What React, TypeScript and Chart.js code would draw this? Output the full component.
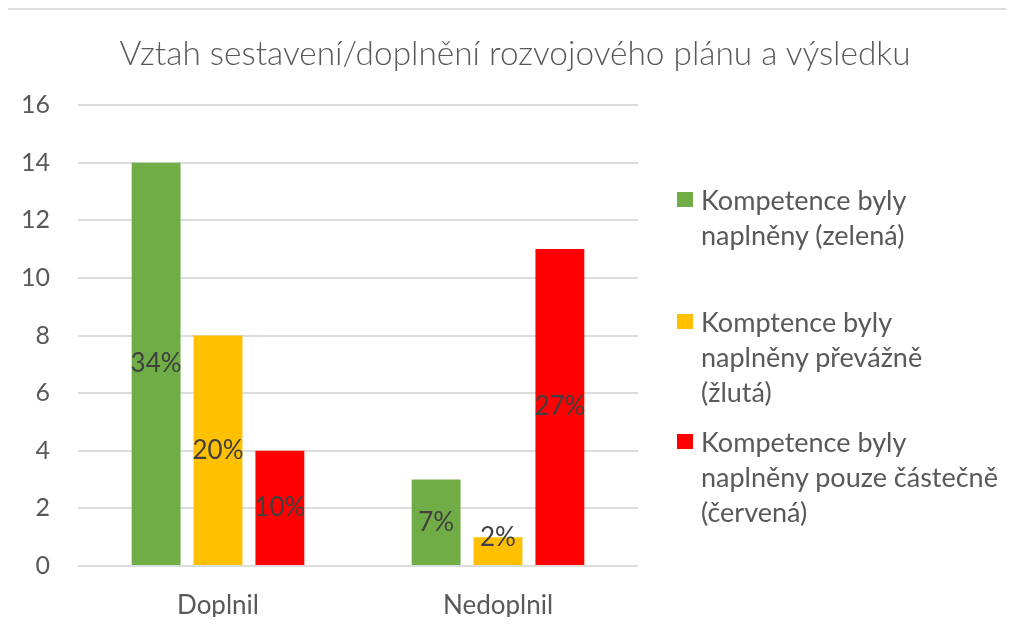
import React, { useEffect, useRef } from "react";
import { Chart, registerables } from "chart.js";

Chart.register(...registerables);

const TITLE = "Vztah sestavení/doplnění rozvojového plánu a výsledku";
const categories = ["Doplnil", "Nedoplnil"];
const seriesNames = [
  ["Kompetence byly", "naplněny (zelená)"],
  ["Komptence byly", "naplněny převážně", "(žlutá)"],
  ["Kompetence byly", "naplněny pouze částečně", "(červená)"],
];
const greenValues = [14, 3];
const yellowValues = [8, 1];
const redValues = [4, 11];
const greenPct = ["34%", "7%"];
const yellowPct = ["20%", "2%"];
const redPct = ["10%", "27%"];
const yTicks = [0, 2, 4, 6, 8, 10, 12, 14, 16];

const COLORS = ["#70AD47", "#FFC000", "#FF0000"];
const FONT = "Lato, 'Open Sans', sans-serif";
const TEXT = "#595959";

const seriesValues = [greenValues, yellowValues, redValues];
const seriesPct = [greenPct, yellowPct, redPct];

const pctLabelPlugin = {
  id: "pctLabels",
  afterDatasetsDraw(chart: any) {
    const ctx = chart.ctx;
    ctx.save();
    ctx.font = `26px ${FONT}`;
    ctx.fillStyle = "#404040";
    ctx.textAlign = "center";
    ctx.textBaseline = "middle";
    chart.data.datasets.forEach((ds: any, di: number) => {
      const meta = chart.getDatasetMeta(di);
      meta.data.forEach((bar: any, i: number) => {
        const center = (bar.y + bar.base) / 2;
        const y = Math.min(center, bar.base - 27);
        ctx.fillText(ds.pct[i], bar.x, y);
      });
    });
    ctx.restore();
  },
};

export default function App() {
  const ref = useRef<HTMLCanvasElement | null>(null);

  useEffect(() => {
    if (!ref.current) return;
    const chart = new Chart(ref.current, {
      type: "bar",
      data: {
        labels: categories,
        datasets: seriesNames.map((n, i) => ({
          label: n.join(" "),
          data: seriesValues[i],
          pct: seriesPct[i],
          backgroundColor: COLORS[i],
          borderWidth: 0,
          categoryPercentage: 0.663,
          barPercentage: 0.79,
        })) as any,
      },
      options: {
        animation: false,
        responsive: false,
        layout: { padding: { left: 0, right: 376, top: 105, bottom: 14 } },
        plugins: {
          legend: { display: false },
          tooltip: { enabled: false },
          title: { display: false },
        },
        scales: {
          x: {
            afterFit: (s: any) => {
              s.height = 51;
            },
            grid: { display: false, drawTicks: false },
            border: { display: false },
            ticks: { color: TEXT, font: { family: FONT, size: 26 }, padding: 24 },
          },
          y: {
            min: 0,
            max: 16,
            afterBuildTicks: (s: any) => {
              s.ticks = yTicks.map((v) => ({ value: v }));
            },
            afterFit: (s: any) => {
              s.width = 78;
            },
            grid: { color: "#DCDCDC", lineWidth: 2, drawTicks: false },
            border: { display: false },
            ticks: { color: TEXT, font: { family: FONT, size: 25 }, padding: 28 },
          },
        },
      },
      plugins: [pctLabelPlugin],
    });
    return () => chart.destroy();
  }, []);

  const legendTops = [182, 304, 424];

  return (
    <div style={{ position: "relative", width: 1014, height: 631, margin: -8, background: "#fff", overflow: "hidden" }}>
      <canvas ref={ref} width={1014} height={631} style={{ position: "absolute", left: 0, top: 0 }} />
      <div style={{ position: "absolute", left: 4, top: 8, width: 1010, height: 2, background: "#DEDEDE" }} />
      <div style={{ position: "absolute", left: 4, top: 8, width: 2, height: 623, background: "#DEDEDE" }} />
      <div
        style={{
          position: "absolute",
          left: 0,
          width: 1030,
          top: 31,
          textAlign: "center",
          fontFamily: FONT,
          fontWeight: 300,
          fontSize: 33.4,
          lineHeight: "42px",
          color: TEXT,
          whiteSpace: "nowrap",
        }}
      >
        {TITLE}
      </div>
      {seriesNames.map((lines, i) => (
        <div
          key={i}
          style={{
            position: "absolute",
            left: 677,
            top: legendTops[i],
            fontFamily: FONT,
            fontSize: 27,
            lineHeight: "35px",
            color: TEXT,
            whiteSpace: "nowrap",
          }}
        >
          <span
            style={{
              position: "absolute",
              left: 0,
              top: 10,
              width: 16,
              height: 15,
              background: COLORS[i],
            }}
          />
          <div style={{ marginLeft: 24 }}>
            {lines.map((l, j) => (
              <div key={j}>{l}</div>
            ))}
          </div>
        </div>
      ))}
    </div>
  );
}
